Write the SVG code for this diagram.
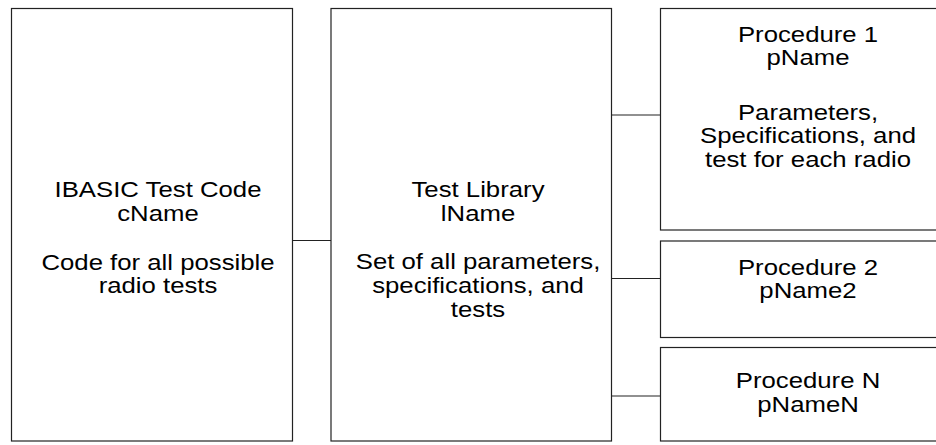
<svg xmlns="http://www.w3.org/2000/svg" width="936" height="445" viewBox="0 0 936 445">
<style>
.box{fill:#fff;stroke:#222;stroke-width:1.2}
.conn line{stroke:#222;stroke-width:1.2}
.lbl{font-family:"Liberation Sans",Arial,sans-serif;font-size:22px;fill:#000;text-anchor:middle}
</style>
<rect width="936" height="445" fill="#fff"/>
<g id="conn" class="conn">
<line x1="292.5" y1="240.5" x2="331" y2="240.5"/>
<line x1="611.5" y1="115" x2="660.5" y2="115"/>
<line x1="611.5" y1="278.5" x2="660.5" y2="278.5"/>
<line x1="611.5" y1="396" x2="660.5" y2="396"/>
</g>
<g id="ibasic">
<rect class="box" x="11.5" y="8.5" width="281" height="432.5"/>
<text class="lbl" transform="translate(158 0) scale(1.17 1)"><tspan x="0" y="196.7">IBASIC Test Code</tspan><tspan x="0" y="220.7">cName</tspan><tspan x="0" y="270">Code for all possible</tspan><tspan x="0" y="293.5">radio tests</tspan></text>
</g>
<g id="library">
<rect class="box" x="331" y="8.5" width="280.5" height="432.5"/>
<text class="lbl" transform="translate(478 0) scale(1.17 1)"><tspan x="0" y="196.7">Test Library</tspan><tspan x="0" y="221.5">lName</tspan><tspan x="0" y="269">Set of all parameters,</tspan><tspan x="0" y="293">specifications, and</tspan><tspan x="0" y="317.5">tests</tspan></text>
</g>
<g id="proc1">
<rect class="box" x="660.5" y="8.5" width="290" height="221.5"/>
<text class="lbl" transform="translate(808 0) scale(1.17 1)"><tspan x="0" y="41.7">Procedure 1</tspan><tspan x="0" y="65">pName</tspan><tspan x="0" y="120">Parameters,</tspan><tspan x="0" y="143.3">Specifications, and</tspan><tspan x="0" y="166.7">test for each radio</tspan></text>
</g>
<g id="proc2">
<rect class="box" x="660.5" y="241" width="290" height="96.5"/>
<text class="lbl" transform="translate(808 0) scale(1.17 1)"><tspan x="0" y="275">Procedure 2</tspan><tspan x="0" y="298.3">pName2</tspan></text>
</g>
<g id="procN">
<rect class="box" x="660.5" y="347.5" width="290" height="93.5"/>
<text class="lbl" transform="translate(808 0) scale(1.17 1)"><tspan x="0" y="388.3">Procedure N</tspan><tspan x="0" y="411.7">pNameN</tspan></text>
</g>
</svg>
